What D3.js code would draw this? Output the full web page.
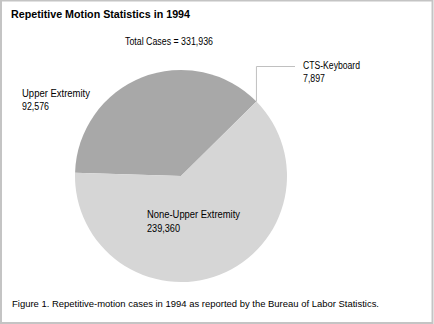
<!DOCTYPE html>
<html>
<head>
<meta charset="utf-8">
<script src="https://cdn.jsdelivr.net/npm/d3@7"></script>
<style>
  html, body { margin: 0; padding: 0; background: #fff; }
  svg { display: block; }
  text { font-family: "Liberation Sans", "DejaVu Sans", sans-serif; fill: #000; }
</style>
</head>
<body>
<div id="chart"></div>
<script>
// ---- data ----
const title = "Repetitive Motion Statistics in 1994";
const totalLabel = "Total Cases = 331,936";
const caption = "Figure 1. Repetitive-motion cases in 1994 as reported by the Bureau of Labor Statistics.";
const sliceCategories = ["Upper Extremity", "None-Upper Extremity"];
const sliceValues = [92576, 239360];
// slice shares as drawn in the picture (percent of the circle)
const sliceShares = [37.1, 62.9];
const calloutCategory = "CTS-Keyboard";
const calloutValue = 7897;

// ---- layout ----
const W = 434, H = 324;
const cx = 181, cy = 176, R = 106;
const colors = ["#a8a8a8", "#d6d6d6"];
const fmt = d3.format(",");

const svg = d3.select("#chart").append("svg")
  .attr("width", W).attr("height", H);

// frame
svg.append("rect")
  .attr("x", 1).attr("y", 0.5).attr("width", W - 2.5).attr("height", H - 1.5)
  .attr("fill", "#fff").attr("stroke", "#c4c4c4").attr("stroke-width", 2);

// pie
const pie = d3.pie()
  .sort(null)
  .value((d, i) => sliceShares[i])
  .startAngle(-88.2 * Math.PI / 180)
  .endAngle((360 - 88.2) * Math.PI / 180);
const arc = d3.arc().innerRadius(0).outerRadius(R);
const arcs = pie(sliceCategories);

const g = svg.append("g").attr("transform", `translate(${cx},${cy})`);
g.selectAll("path").data(arcs).enter().append("path")
  .attr("d", arc)
  .attr("fill", (d, i) => colors[i]);

// leader line for CTS-Keyboard (at the boundary between the two slices)
const bAng = arcs[0].endAngle;
const edge = [Math.sin(bAng) * R + cx, -Math.cos(bAng) * R + cy];
const elbowY = 66.5, lineEndX = 295;
svg.append("polyline")
  .attr("points", `${edge[0]},${edge[1]} ${edge[0]},${elbowY} ${lineEndX},${elbowY}`)
  .attr("fill", "none").attr("stroke", "#c0c0c0").attr("stroke-width", 1);

function label(x, y, txt, len, opts = {}) {
  const t = svg.append("text")
    .attr("x", x).attr("y", y)
    .attr("font-size", opts.size || 10)
    .attr("font-weight", opts.bold ? "bold" : "normal")
    .text(txt);
  if (len) t.attr("textLength", len).attr("lengthAdjust", "spacingAndGlyphs");
  return t;
}

label(11, 18, title, 179, { bold: true, size: 10.5 });
label(125, 45, totalLabel, 88);

// slice labels
label(22, 97, sliceCategories[0], 68);
label(22, 109.5, fmt(sliceValues[0]), 27);
label(147, 218, sliceCategories[1], 93);
label(147, 231.5, fmt(sliceValues[1]), 33);

// callout
label(303, 69, calloutCategory, 57);
label(303, 82, fmt(calloutValue), 22);

// caption
label(12, 307, caption, 367, { size: 9 });
</script>
</body>
</html>
